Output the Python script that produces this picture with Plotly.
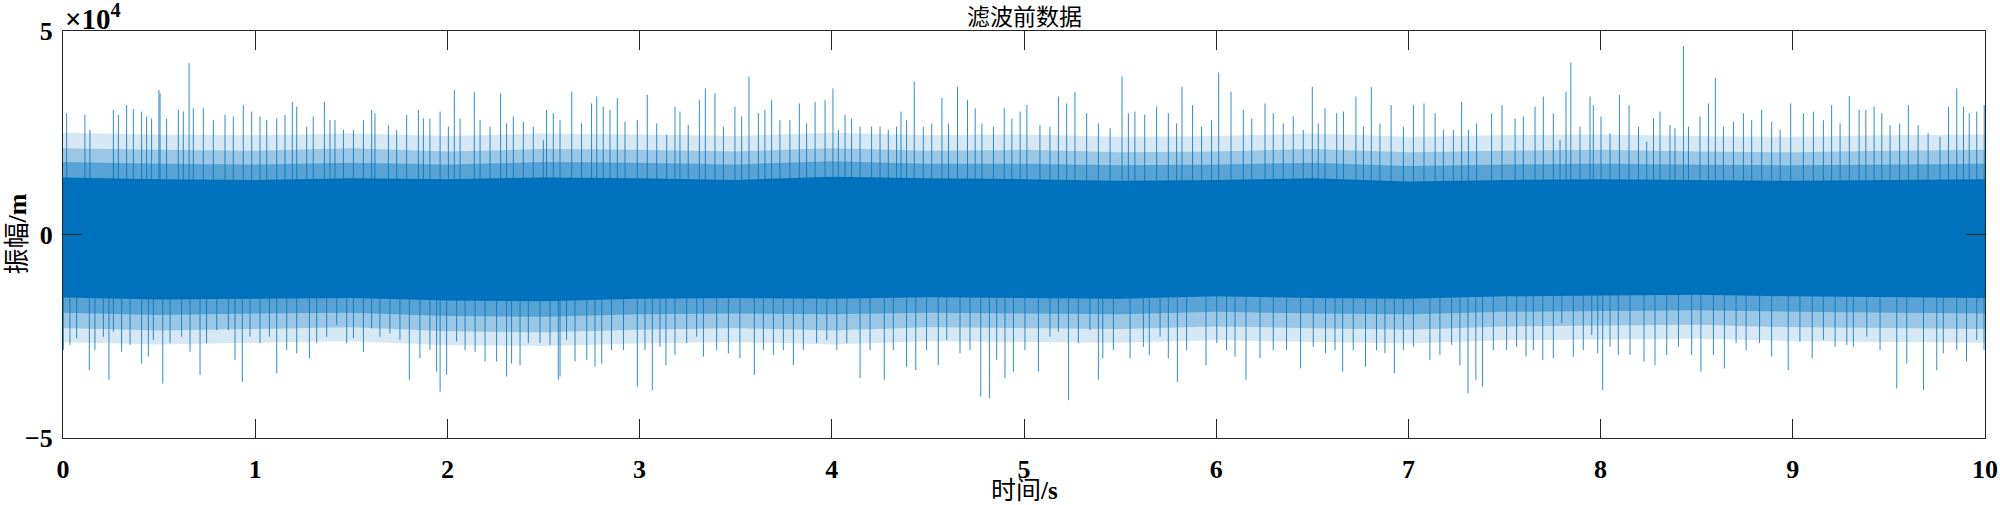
import plotly.graph_objects as go

# 滤波前数据: time axis 0-10 s, amplitude shown in units of 1e4 m
# peaks (largest spikes above and below the band)
up_t = [0.019, 0.114, 0.140, 0.262, 0.288, 0.331, 0.366, 0.409, 0.435, 0.461, 0.499, 0.505, 0.539, 0.600, 0.626,
        0.656, 0.678, 0.730, 0.782, 0.843, 0.886, 0.938, 0.982, 1.025, 1.060, 1.112, 1.155, 1.193, 1.216, 1.268,
        1.302, 1.360, 1.389, 1.415, 1.459, 1.511, 1.563, 1.606, 1.623, 1.693, 1.736, 1.788, 1.849, 1.875, 1.909,
        1.962, 2.005, 2.036, 2.066, 2.140, 2.170, 2.222, 2.277, 2.308, 2.343, 2.395, 2.447, 2.499, 2.516, 2.551,
        2.586, 2.647, 2.698, 2.750, 2.777, 2.811, 2.846, 2.884, 2.924, 2.988, 3.040, 3.089, 3.141, 3.184, 3.210,
        3.253, 3.311, 3.342, 3.392, 3.436, 3.496, 3.531, 3.569, 3.618, 3.652, 3.687, 3.730, 3.782, 3.831, 3.869,
        3.913, 3.965, 4.006, 4.034, 4.069, 4.103, 4.147, 4.207, 4.251, 4.294, 4.337, 4.360, 4.389, 4.429, 4.476,
        4.520, 4.573, 4.607, 4.654, 4.706, 4.746, 4.781, 4.841, 4.897, 4.937, 4.980, 5.015, 5.083, 5.135, 5.179,
        5.222, 5.265, 5.326, 5.387, 5.448, 5.510, 5.543, 5.577, 5.628, 5.690, 5.751, 5.794, 5.822, 5.877, 5.924,
        5.976, 6.013, 6.077, 6.141, 6.185, 6.254, 6.297, 6.349, 6.401, 6.453, 6.500, 6.531, 6.566, 6.627, 6.662,
        6.727, 6.766, 6.807, 6.852, 6.910, 6.974, 7.026, 7.081, 7.139, 7.182, 7.234, 7.277, 7.312, 7.355, 7.433,
        7.487, 7.555, 7.598, 7.659, 7.702, 7.754, 7.789, 7.820, 7.845, 7.893, 7.945, 7.962, 8.002, 8.049, 8.098,
        8.148, 8.197, 8.240, 8.275, 8.309, 8.361, 8.387, 8.431, 8.457, 8.517, 8.561, 8.597, 8.639, 8.691, 8.743,
        8.786, 8.838, 8.890, 8.934, 8.989, 9.055, 9.107, 9.159, 9.202, 9.246, 9.294, 9.345, 9.380, 9.423, 9.463,
        9.506, 9.556, 9.601, 9.652, 9.704, 9.766, 9.810, 9.853, 9.888, 9.918, 9.957, 9.996]
up_v = [29800, 29400, 25700, 30600, 29400, 31800, 30800, 30200, 29000, 28500, 35500, 34700, 28500, 30600, 30200,
        42100, 31000, 31000, 28100, 29400, 29000, 31800, 30200, 29000, 28100, 28500, 29400, 32600, 31400, 26500,
        29000, 32600, 28100, 28100, 25700, 25700, 28100, 30600, 29800, 26900, 25700, 29400, 30600, 28500, 28500,
        30200, 26500, 35500, 28500, 35100, 28100, 26500, 34700, 27300, 29000, 27700, 26500, 23200, 30600, 29800,
        28100, 35100, 27300, 32200, 33900, 31400, 30600, 33500, 27700, 28100, 34300, 27300, 24500, 31400, 30200,
        26900, 33000, 35900, 34700, 26500, 31400, 29000, 38800, 29800, 30600, 33000, 28100, 28100, 32200, 27300,
        32600, 33000, 35900, 25700, 29400, 28500, 26500, 26500, 26500, 25700, 26500, 30200, 28100, 37600, 26500,
        27300, 33500, 27300, 36300, 33000, 31000, 27300, 26500, 31000, 28500, 30200, 31800, 26900, 26500, 33900,
        32200, 35100, 29800, 27300, 26100, 38800, 29800, 30200, 29400, 31400, 29800, 27300, 36300, 31800, 26500,
        28100, 39800, 35100, 30600, 28500, 32200, 29800, 27300, 29000, 25700, 36300, 27300, 31000, 29800, 30200,
        33900, 26500, 36200, 27300, 31800, 26500, 31800, 32200, 29800, 25700, 25700, 32600, 25700, 27300, 29800,
        31800, 28500, 29000, 31400, 33900, 29800, 23200, 35100, 42300, 26500, 33900, 31800, 29000, 24900, 34300,
        31800, 26500, 22800, 28500, 30200, 26900, 26100, 46300, 26500, 29000, 32200, 38400, 26500, 27700, 29800,
        28100, 30600, 27700, 25700, 32200, 29800, 30200, 28100, 31800, 27300, 34000, 30600, 30600, 31400, 29800,
        26900, 27300, 31800, 26900, 24900, 24000, 31400, 35900, 31400, 29800, 30200, 31800]

dn_t = [0.002, 0.036, 0.071, 0.137, 0.166, 0.210, 0.239, 0.262, 0.305, 0.349, 0.409, 0.444, 0.470, 0.519, 0.557,
        0.617, 0.661, 0.713, 0.747, 0.800, 0.860, 0.895, 0.933, 0.973, 1.025, 1.074, 1.112, 1.164, 1.216, 1.282,
        1.320, 1.372, 1.424, 1.476, 1.511, 1.563, 1.606, 1.649, 1.701, 1.753, 1.802, 1.857, 1.909, 1.944, 1.962,
        1.996, 2.048, 2.092, 2.144, 2.196, 2.256, 2.308, 2.334, 2.378, 2.421, 2.482, 2.534, 2.577, 2.586, 2.620,
        2.664, 2.725, 2.768, 2.803, 2.854, 2.916, 2.988, 3.028, 3.066, 3.106, 3.137, 3.184, 3.245, 3.297, 3.332,
        3.401, 3.462, 3.522, 3.597, 3.644, 3.696, 3.748, 3.800, 3.852, 3.921, 3.974, 4.026, 4.078, 4.147, 4.199,
        4.273, 4.320, 4.389, 4.437, 4.493, 4.554, 4.598, 4.667, 4.719, 4.775, 4.820, 4.858, 4.901, 4.945, 5.005,
        5.075, 5.135, 5.179, 5.231, 5.283, 5.343, 5.387, 5.410, 5.465, 5.552, 5.621, 5.652, 5.708, 5.751, 5.798,
        5.846, 5.947, 6.003, 6.054, 6.098, 6.155, 6.228, 6.297, 6.366, 6.439, 6.505, 6.569, 6.618, 6.658, 6.713,
        6.777, 6.834, 6.878, 6.927, 6.974, 7.026, 7.112, 7.164, 7.225, 7.268, 7.310, 7.351, 7.386, 7.442, 7.511,
        7.563, 7.612, 7.650, 7.699, 7.754, 7.798, 7.858, 7.910, 7.954, 7.985, 8.011, 8.049, 8.092, 8.153, 8.226,
        8.283, 8.344, 8.405, 8.474, 8.522, 8.587, 8.644, 8.705, 8.757, 8.827, 8.890, 8.976, 9.037, 9.101, 9.159,
        9.220, 9.281, 9.315, 9.385, 9.454, 9.541, 9.593, 9.680, 9.749, 9.783, 9.853, 9.904, 9.957, 9.995]
dn_v = [-28400, -27100, -25500, -33300, -28400, -25100, -35700, -23900, -28800, -27100, -31700, -30000, -25900,
        -36600, -26700, -25100, -28800, -34500, -26700, -23500, -23500, -30800, -36200, -25100, -26700, -25100,
        -34100, -28400, -29200, -30400, -26700, -25100, -22200, -26700, -25500, -28800, -23100, -25100, -24300,
        -25900, -35700, -30400, -28400, -33700, -38600, -34500, -26300, -28400, -28800, -31200, -31200, -34900,
        -31700, -32100, -26700, -26700, -27100, -35700, -34900, -25900, -31200, -30800, -32500, -31700, -28400,
        -28400, -37400, -28400, -38200, -27600, -32100, -29600, -26700, -25100, -30000, -28400, -29200, -30400,
        -34500, -28400, -29600, -28400, -32100, -28400, -26700, -25900, -28400, -26700, -35300, -28400, -35700,
        -28400, -32500, -33300, -28400, -32100, -25900, -29200, -28400, -39800, -40200, -30800, -35300, -33700,
        -28400, -33700, -25100, -23900, -40700, -26700, -23500, -35700, -30400, -28400, -30400, -27600, -29600,
        -25100, -30400, -36200, -28400, -32100, -26700, -28400, -30000, -35700, -30400, -28400, -28400, -32900,
        -27600, -29200, -28400, -33700, -28400, -32500, -28400, -29200, -34100, -28400, -27600, -30800, -29600,
        -27100, -32100, -39000, -35700, -37400, -28400, -28400, -27600, -30000, -28400, -30800, -30400, -21800,
        -30000, -28400, -24700, -29200, -38200, -27600, -29600, -29600, -31200, -32100, -29600, -27600, -29600,
        -33700, -29600, -32900, -26700, -28400, -26700, -30000, -33300, -26300, -30400, -25900, -27600, -27100,
        -27600, -25100, -28400, -37800, -31700, -38200, -33300, -29200, -28400, -31200, -25900, -28400]

# edges of the solid core and of the thinning zones around it, every 0.5 s
band_t = [0, 0.5, 1, 1.5, 2, 2.5, 3, 3.5, 4, 4.5, 5, 5.5, 6, 6.5, 7, 7.5, 8, 8.5, 9, 9.5, 10]
core_hi = [14000, 13600, 13400, 13800, 13600, 14000, 13800, 13400, 14200, 13800, 13600,
           13200, 13400, 13800, 13000, 13400, 13600, 13400, 13200, 13400, 13600]
core_lo = [-15500, -16000, -15800, -15600, -16200, -16400, -15800, -15600, -15800, -15400, -15600,
           -15800, -15200, -15600, -15800, -15200, -15000, -14800, -15200, -15400, -15600]
inner_hi = [17800, 17400, 17200, 17600, 17200, 17800, 17600, 17200, 18000, 17400, 17400,
            17000, 17200, 17600, 16800, 17200, 17400, 17200, 17000, 17200, 17400]
inner_lo = [-19200, -19800, -19400, -19200, -20000, -20200, -19600, -19400, -19600, -19200, -19400,
            -19600, -19000, -19400, -19600, -19000, -18800, -18600, -19000, -19200, -19400]
mid_hi = [21200, 20800, 20600, 21200, 20400, 21000, 20800, 20400, 21200, 20600, 20800,
          20200, 20400, 21000, 20200, 20600, 20800, 20400, 20200, 20600, 20800]
mid_lo = [-23000, -23600, -23200, -22800, -23800, -24000, -23400, -23000, -23600, -22800, -23000,
          -23200, -22600, -23000, -23400, -22600, -22400, -22200, -22800, -23000, -23200]
outer_hi = [25000, 24600, 24400, 24800, 24200, 24800, 24600, 24200, 25000, 24400, 24600,
            24000, 24200, 24800, 24000, 24400, 24600, 24200, 24000, 24400, 24600]
outer_lo = [-26500, -27000, -26600, -26200, -27200, -27400, -26800, -26400, -27000, -26200, -26400,
            -26600, -26000, -26400, -26800, -26000, -25800, -25600, -26200, -26400, -26600]

x_ticks = list(range(0, 11))
y_ticks = [-50000, 0, 50000]
y_tick_text = ["\u22125", "0", "5"]

BLUE = "#0072BD"
AX = "#262626"
SERIF = "Liberation Serif, Noto Sans CJK SC"


def band(hi, lo, color):
    return go.Scatter(x=band_t + band_t[::-1], y=hi + lo[::-1], fill="toself", fillcolor=color,
                      line=dict(width=0), mode="lines", hoverinfo="skip", showlegend=False)


fig = go.Figure()
fig.add_trace(band(outer_hi, outer_lo, "rgba(0,114,189,0.16)"))
fig.add_trace(band(mid_hi, mid_lo, "rgba(0,114,189,0.28)"))
fig.add_trace(band(inner_hi, inner_lo, "rgba(0,114,189,0.42)"))

spike_x, spike_y = [], []
for t, v in zip(up_t + dn_t, up_v + dn_v):
    spike_x += [t, t, None]
    spike_y += [0, v, None]
fig.add_trace(go.Scatter(x=spike_x, y=spike_y, mode="lines", line=dict(color=BLUE, width=1),
                         opacity=0.8, hoverinfo="skip", showlegend=False))

fig.add_trace(band(core_hi, core_lo, BLUE))

axis_common = dict(showline=True, linecolor=AX, linewidth=1, mirror="ticks", ticks="inside",
                   ticklen=19, tickcolor=AX, tickwidth=1, showgrid=False, zeroline=False,
                   automargin=False,
                   tickfont=dict(family=SERIF, size=26, color="black", weight="bold"))

fig.update_xaxes(range=[0, 10], tickvals=x_ticks, ticklabelstandoff=8, **axis_common)
fig.update_yaxes(range=[-50000, 50000], tickvals=y_ticks, ticktext=y_tick_text,
                 ticklabelstandoff=4, **axis_common)

fig.update_layout(
    width=2000, height=505,
    margin=dict(l=63, r=15, t=31, b=67),
    plot_bgcolor="white", paper_bgcolor="white",
    annotations=[
        dict(text="滤波前数据", xref="paper", yref="paper", x=0.5, y=1, yanchor="middle", yshift=16,
             showarrow=False, borderpad=0, font=dict(family="Noto Sans CJK SC", size=23, color="black")),
        dict(text="时间<b>/s</b>", xref="paper", yref="paper", x=0.5, y=0, yanchor="middle", yshift=-52,
             showarrow=False, borderpad=0, font=dict(family=SERIF, size=25, color="black")),
        dict(text="振幅<b>/m</b>", xref="paper", yref="paper", x=0, y=0.5, xanchor="center", xshift=-46,
             textangle=-90, showarrow=False, font=dict(family=SERIF, size=26, color="black")),
        dict(text="<b>×10<sup>4</sup></b>", xref="paper", yref="paper", x=0, y=1, xanchor="left",
             yanchor="middle", yshift=14, showarrow=False,
             font=dict(family=SERIF, size=29, color="black")),
    ],
)

# drop the page's default body margin so the 2000x505 figure fills the window exactly
fig.write_html("out.html", config={"displayModeBar": False},
               post_script="document.body.style.margin='0';")
